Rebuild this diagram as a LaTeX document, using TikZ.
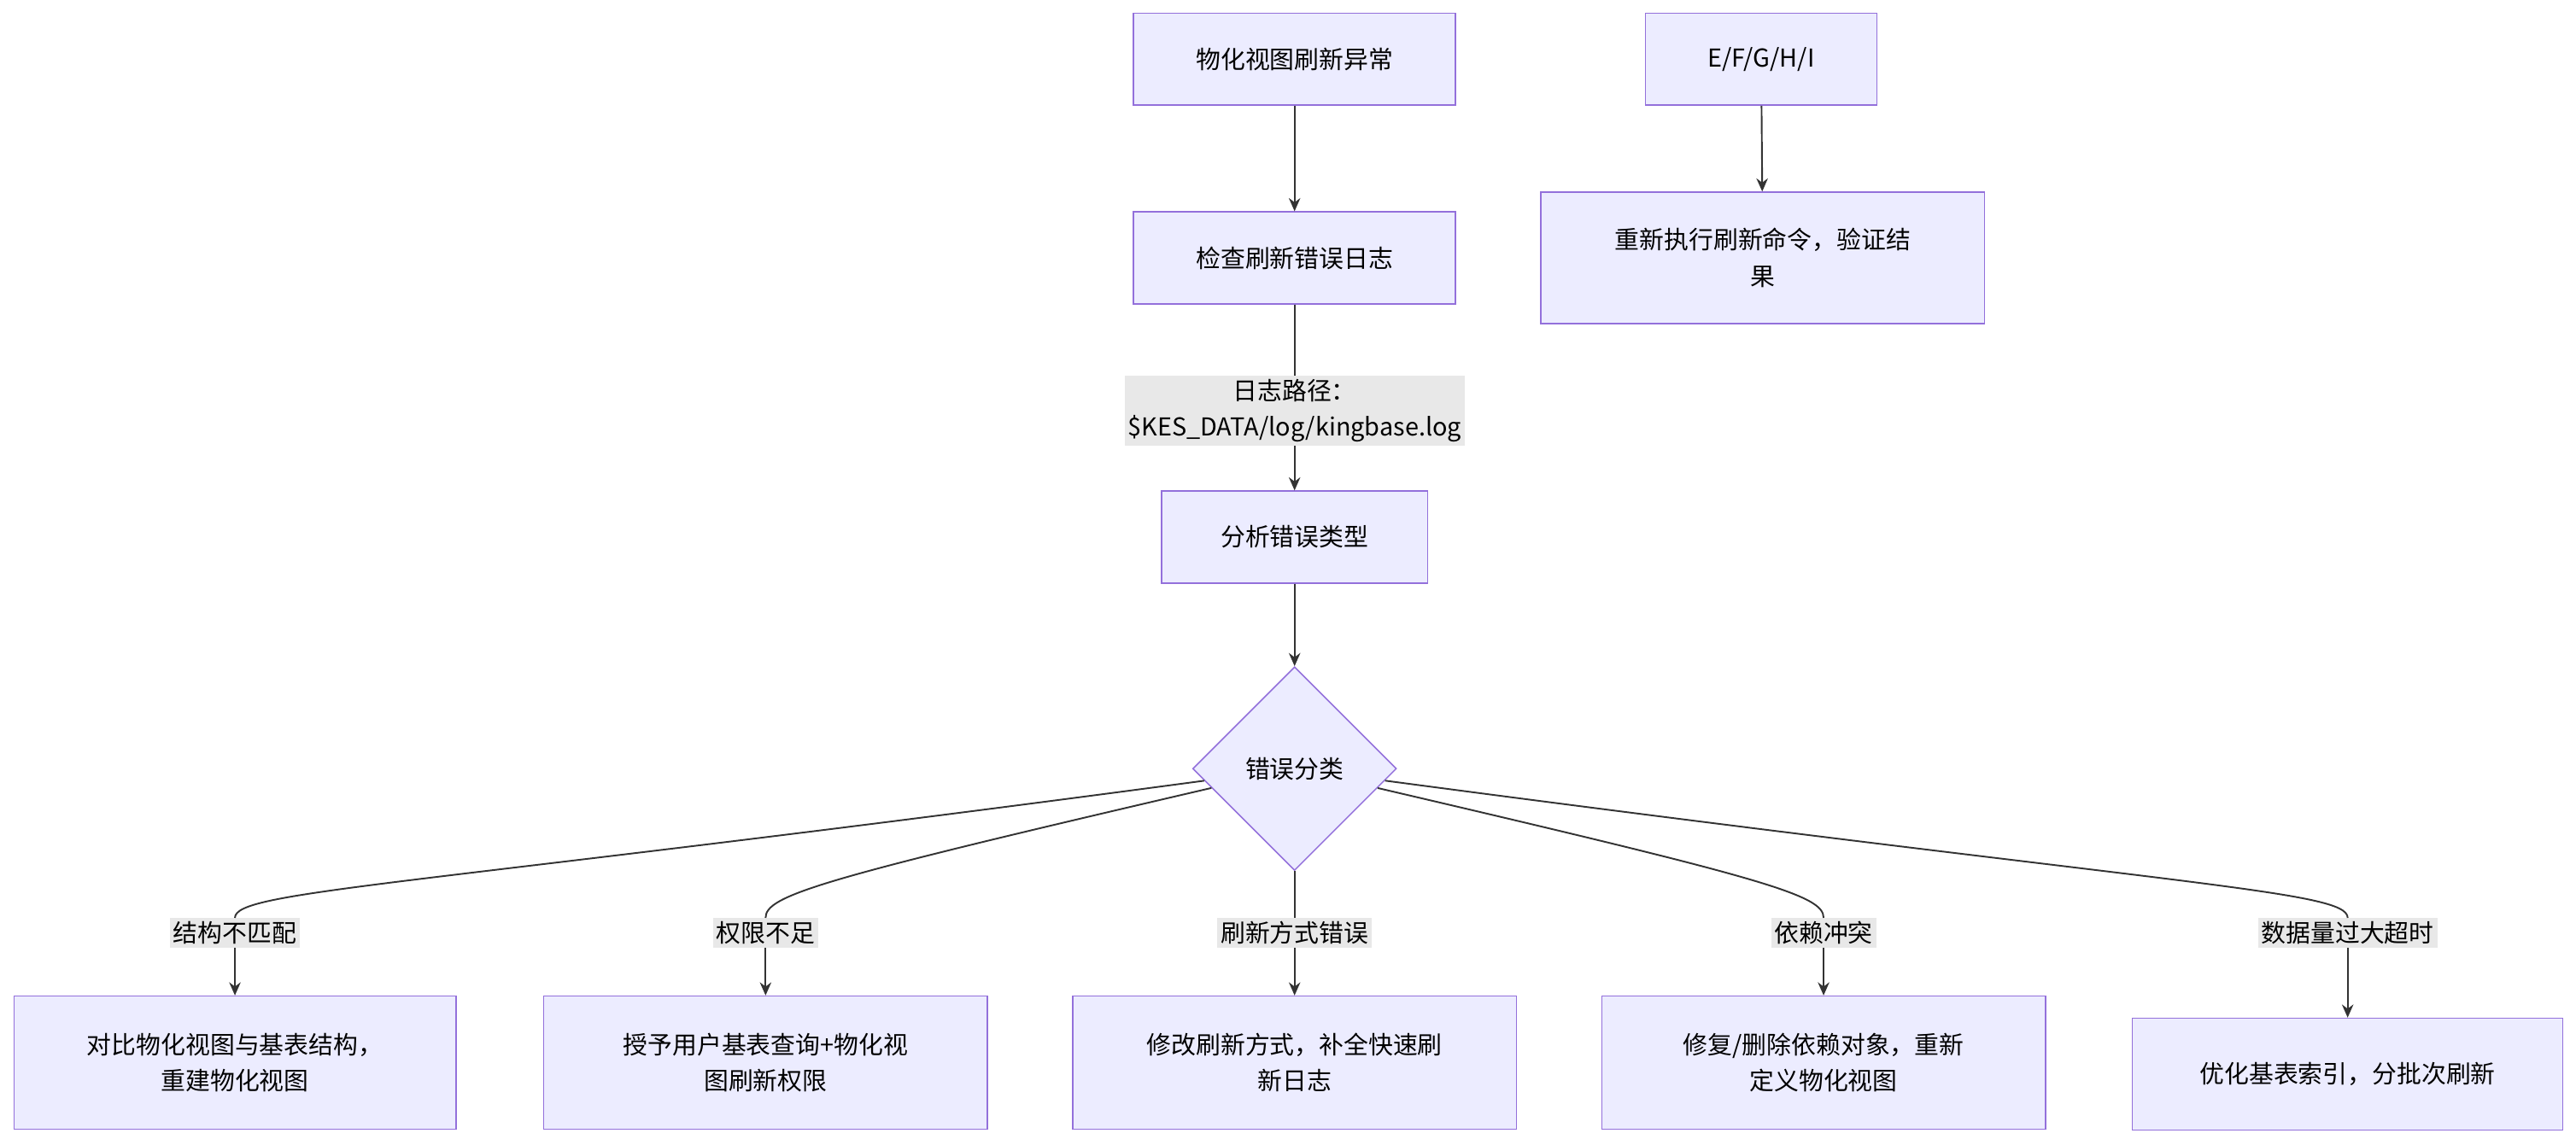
\documentclass[tikz,border=0pt]{standalone}
\usepackage{fontspec}
\setmainfont{Noto Sans CJK SC}
\usetikzlibrary{arrows.meta,shapes.geometric}
\definecolor{boxfill}{HTML}{ECECFF}
\definecolor{boxline}{HTML}{9370DB}
\definecolor{linkcol}{HTML}{333333}
\definecolor{lblfill}{HTML}{E8E8E8}
\begin{document}
\begin{tikzpicture}[
    x=1pt, y=-1pt,
    every node/.style={font=\fontsize{15}{22}\selectfont, align=center}, % text size
    box/.style={draw=boxline, fill=boxfill, line width=0.8pt, inner sep=0pt},
    lbl/.style={fill=lblfill, inner sep=2pt},
    link/.style={draw=linkcol, line width=1pt},
    arr/.style={link, -{Stealth[length=8pt,width=7pt]}}
]
\useasboundingbox (0,0) rectangle (1568,697);

% top column
\node[box, minimum width=196pt, minimum height=56pt] (start) at (788,36) {物化视图刷新异常};
\node[box, minimum width=196pt, minimum height=56pt] (check) at (788,157) {检查刷新错误日志};
\node[lbl] (path) at (788,250) {日志路径：\\\$KES\_DATA/log/kingbase.log};
\node[box, minimum width=162pt, minimum height=56pt] (kind) at (788,327) {分析错误类型};
\node[box, diamond, minimum width=124pt, minimum height=124pt] (cls) at (788,468) {错误分类};

% side column
\node[box, minimum width=141pt, minimum height=56pt] (efg) at (1072,36) {E/F/G/H/I};
\node[box, minimum width=270pt, minimum height=80pt] (redo) at (1073,157) {重新执行刷新命令，验证结\\果};

% bottom row
\node[box, minimum width=269pt, minimum height=81pt] (fix1) at (143,647) {对比物化视图与基表结构，\\重建物化视图};
\node[box, minimum width=270pt, minimum height=81pt] (fix2) at (466,647) {授予用户基表查询+物化视\\图刷新权限};
\node[box, minimum width=270pt, minimum height=81pt] (fix3) at (788,647) {修改刷新方式，补全快速刷\\新日志};
\node[box, minimum width=270pt, minimum height=81pt] (fix4) at (1110,647) {修复/删除依赖对象，重新\\定义物化视图};
\node[box, minimum width=262pt, minimum height=68pt] (fix5) at (1429,654) {优化基表索引，分批次刷新};

% branch labels
\node[lbl] (why1) at (143,568) {结构不匹配};
\node[lbl] (why2) at (466,568) {权限不足};
\node[lbl] (why3) at (788,568) {刷新方式错误};
\node[lbl] (why4) at (1110,568) {依赖冲突};
\node[lbl] (why5) at (1429,568) {数据量过大超时};

\draw[arr] (start) -- (check);
\draw[link] (check) -- (path);
\draw[arr] (path) -- (kind);
\draw[arr] (kind) -- (cls);
\draw[arr] (efg) -- (redo);

\draw[link] (cls) .. controls (250,540) and (143,542) .. (why1);
\draw[link] (cls) .. controls (500,535) and (466,545) .. (why2);
\draw[link] (cls) -- (why3);
\draw[link] (cls) .. controls (1075,535) and (1110,545) .. (why4);
\draw[link] (cls) .. controls (1330,540) and (1429,542) .. (why5);
\foreach \i in {1,...,5}
    \draw[arr] (why\i) -- (fix\i);
\end{tikzpicture}
\end{document}
